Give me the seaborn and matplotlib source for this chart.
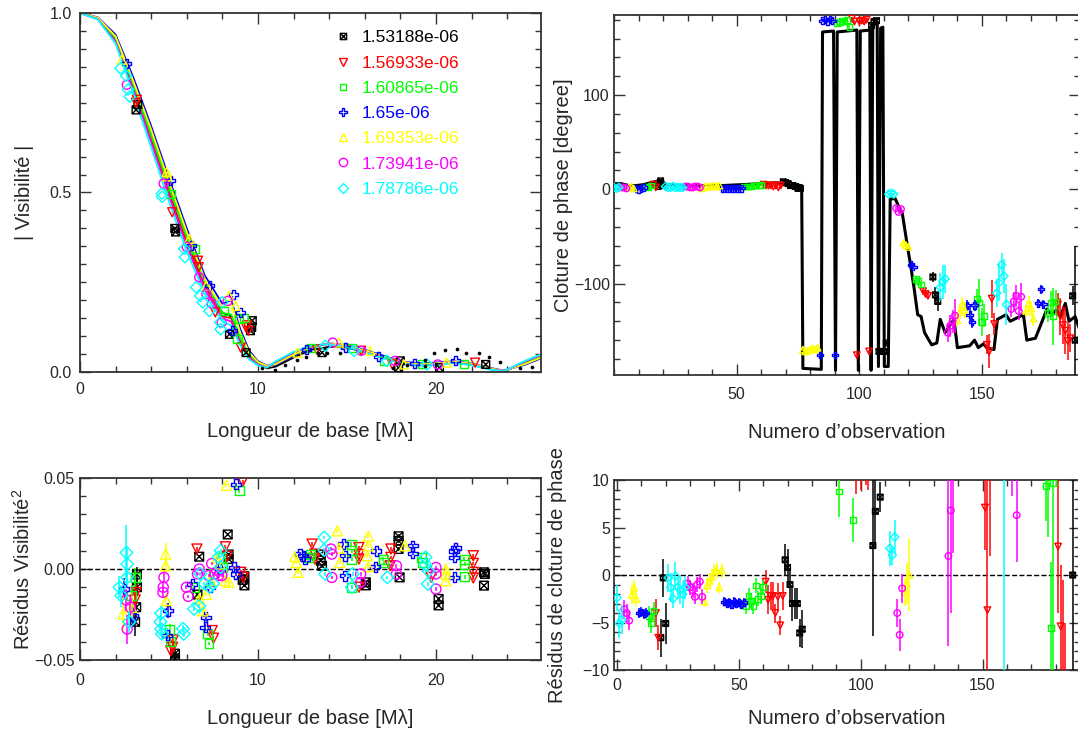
import matplotlib
matplotlib.use("Agg")
import matplotlib.pyplot as plt
import seaborn as sns
from matplotlib.path import Path
from matplotlib.lines import Line2D
from matplotlib.ticker import MultipleLocator

# ==========================================
# DATA
# ==========================================

wavelengths = ["1.53188e-06", "1.56933e-06", "1.60865e-06", "1.65e-06",
               "1.69353e-06", "1.73941e-06", "1.78786e-06"]
colors = ["black", "#FF0000", "#00FF00", "#0000FF", "#FFFF00", "#FF00FF", "#00FFFF"]

# --- |V| vs baseline : measured points (x [Mlambda], V)
vis_black = [(3.15, 0.73), (3.25, 0.745), (5.37, 0.39), (5.33, 0.40), (8.4, 0.105),
             (9.33, 0.054), (9.68, 0.143), (9.58, 0.115), (9.65, 0.125), (13.6, 0.054),
             (18.0, 0.031), (17.9, 0.012), (20.2, 0.012), (22.8, 0.021)]
vis_red = [(3.2, 0.758), (3.15, 0.75), (5.18, 0.445), (6.63, 0.31), (6.67, 0.292),
           (7.6, 0.166), (9.33, 0.124), (9.46, 0.115), (9.4, 0.13), (9.03, 0.068),
           (13.3, 0.063), (15.8, 0.059), (17.55, 0.021), (22.2, 0.026)]
vis_green = [(5.14, 0.497), (6.47, 0.343), (8.08, 0.171), (8.95, 0.147), (9.2, 0.15),
             (8.85, 0.091), (13.0, 0.068), (15.3, 0.066), (17.1, 0.031), (19.2, 0.021),
             (21.6, 0.021)]
vis_blue = [(2.6, 0.86), (5.08, 0.534), (6.24, 0.352), (7.3, 0.24), (8.6, 0.217),
            (9.04, 0.166), (8.56, 0.115), (12.7, 0.063), (14.9, 0.068), (16.77, 0.042),
            (18.8, 0.023), (21.1, 0.031)]
vis_yellow = [(2.35, 0.87), (4.87, 0.557), (4.9, 0.545), (6.14, 0.371), (7.1, 0.24),
              (8.37, 0.212), (8.75, 0.184), (12.23, 0.054), (14.55, 0.082), (16.3, 0.059),
              (18.2, 0.021), (20.6, 0.026)]
vis_magenta = [(2.63, 0.80), (4.7, 0.525), (6.0, 0.348), (6.7, 0.264), (7.1, 0.217),
               (7.4, 0.191), (7.96, 0.138), (8.3, 0.198), (14.2, 0.082), (15.8, 0.059),
               (17.7, 0.031), (20.1, 0.021)]
vis_cyan = [(2.28, 0.846), (2.6, 0.825), (2.7, 0.787), (2.8, 0.767), (4.6, 0.497),
            (4.62, 0.488), (5.86, 0.343), (5.9, 0.32), (6.53, 0.236), (6.76, 0.212),
            (6.9, 0.194), (7.27, 0.17), (7.88, 0.138), (7.9, 0.119), (8.0, 0.194),
            (13.78, 0.073), (15.4, 0.059), (17.25, 0.031), (19.5, 0.021)]

# --- |V| model curves
mod_b = [0, 1, 2, 3, 4, 5, 6, 7, 8, 8.5, 9, 9.5, 10, 10.5, 11, 12, 13, 14, 15, 16,
         17, 18, 19, 20, 21, 22, 23, 23.8, 25, 26]
mod_black = [1.0, 0.986, 0.93, 0.80, 0.66, 0.515, 0.375, 0.25, 0.165, 0.155, 0.09, 0.048,
             0.024, 0.010, 0.015, 0.040, 0.062, 0.070, 0.068, 0.055, 0.040, 0.027, 0.020,
             0.022, 0.027, 0.021, 0.009, 0.002, 0.024, 0.044]
mod_red = [1.0, 0.984, 0.925, 0.795, 0.65, 0.50, 0.36, 0.24, 0.155, 0.15, 0.085, 0.045,
           0.022, 0.014, 0.026, 0.052, 0.072, 0.078, 0.072, 0.057, 0.041, 0.027, 0.019,
           0.021, 0.027, 0.021, 0.009, 0.002, 0.027, 0.047]
mod_green = [1.0, 0.985, 0.93, 0.80, 0.66, 0.515, 0.375, 0.25, 0.165, 0.16, 0.095, 0.05,
             0.025, 0.015, 0.024, 0.050, 0.071, 0.079, 0.073, 0.058, 0.042, 0.028, 0.020,
             0.022, 0.028, 0.022, 0.010, 0.002, 0.025, 0.045]
mod_blue = [1.0, 0.988, 0.94, 0.82, 0.685, 0.54, 0.40, 0.27, 0.19, 0.20, 0.12, 0.06,
            0.030, 0.018, 0.020, 0.045, 0.068, 0.080, 0.075, 0.062, 0.046, 0.030, 0.024,
            0.026, 0.030, 0.024, 0.012, 0.004, 0.020, 0.040]
mod_yellow = [1.0, 0.987, 0.935, 0.81, 0.675, 0.53, 0.39, 0.26, 0.18, 0.19, 0.11, 0.055,
              0.028, 0.017, 0.022, 0.048, 0.070, 0.080, 0.074, 0.060, 0.044, 0.029, 0.022,
              0.024, 0.029, 0.023, 0.011, 0.003, 0.022, 0.042]
mod_magenta = [1.0, 0.983, 0.92, 0.785, 0.64, 0.49, 0.35, 0.23, 0.15, 0.14, 0.08, 0.04,
               0.020, 0.013, 0.028, 0.054, 0.073, 0.078, 0.071, 0.056, 0.040, 0.026, 0.018,
               0.020, 0.026, 0.020, 0.008, 0.002, 0.029, 0.049]
mod_cyan = [1.0, 0.982, 0.915, 0.775, 0.625, 0.475, 0.335, 0.22, 0.14, 0.13, 0.075, 0.035,
            0.018, 0.012, 0.030, 0.056, 0.074, 0.077, 0.070, 0.055, 0.039, 0.025, 0.017,
            0.019, 0.025, 0.019, 0.007, 0.002, 0.031, 0.051]

# black dots (second model) in the outer lobes
dots_b = [10.2, 10.96, 11.5, 12.2, 12.7, 13.4, 13.9, 14.6, 17.6, 18.4, 19.4, 19.4, 19.9,
          20.5, 21.2, 21.7, 22.4, 23.0, 23.6, 24.7, 25.4]
dots_v = [0.011, 0.006, 0.020, 0.033, 0.042, 0.052, 0.052, 0.054, 0.012, 0.020, 0.017,
          0.033, 0.052, 0.061, 0.064, 0.053, 0.053, 0.042, 0.028, 0.011, 0.014]

# --- residuals V^2 : (x, residual, error)
rv_black = [(3.2, -0.003, 0.004), (3.2, -0.010, 0.004), (3.16, -0.021, 0.006), (3.1, -0.029, 0.008),
            (5.34, -0.0465, 0.002), (5.34, -0.049, 0.002), (6.7, 0.0068, 0.001), (6.6, -0.014, 0.001),
            (8.3, 0.019, 0.001), (8.35, 0.008, 0.001), (8.35, 0.0055, 0.001), (9.14, -0.006, 0.001),
            (9.24, -0.009, 0.001), (9.24, -0.004, 0.001), (13.53, 0.0046, 0.001), (13.6, 0.0018, 0.001),
            (13.5, 0.008, 0.001), (16.06, -0.0073, 0.001), (16.06, -0.009, 0.001), (17.9, 0.018, 0.001),
            (17.9, 0.0155, 0.001), (17.9, 0.011, 0.001), (17.96, -0.0046, 0.001), (20.15, -0.0164, 0.001),
            (20.15, -0.020, 0.001), (22.7, -0.0018, 0.001), (22.7, -0.0091, 0.001), (22.75, -0.0027, 0.001)]
rv_red = [(3.1, -0.017, 0.006), (3.15, -0.013, 0.005), (5.2, -0.043, 0.002), (5.24, -0.039, 0.002),
          (5.1, -0.045, 0.002), (6.57, 0.011, 0.001), (7.43, -0.0338, 0.001), (7.5, -0.038, 0.001),
          (8.17, 0.0122, 0.001), (8.27, 0.007, 0.001), (9.03, -0.0018, 0.001), (9.18, -0.0046, 0.001),
          (9.14, 0.048, 0.001), (13.04, 0.0137, 0.001), (13.2, 0.0082, 0.001), (13.2, 0.0055, 0.001),
          (15.67, 0.0118, 0.001), (15.67, 0.008, 0.001), (15.67, 0.0055, 0.001), (15.67, -0.010, 0.001),
          (17.47, 0.011, 0.001), (17.47, 0.0064, 0.001), (17.43, 0.0018, 0.001), (19.73, -0.0046, 0.001),
          (22.1, 0.0073, 0.001), (22.1, 0.0031, 0.001), (22.1, -0.0018, 0.001), (22.1, -0.0049, 0.001)]
rv_green = [(2.9, -0.0146, 0.006), (3.1, -0.0046, 0.005), (5.05, -0.033, 0.003), (5.08, -0.040, 0.002),
            (6.41, -0.010, 0.001), (7.19, -0.0356, 0.001), (7.25, -0.041, 0.001), (7.48, -0.0027, 0.001),
            (7.87, 0.0064, 0.001), (8.03, 0.001, 0.001), (8.95, 0.043, 0.001), (12.85, 0.0064, 0.001),
            (12.95, 0.0082, 0.001), (15.25, 0.0137, 0.001), (15.28, 0.010, 0.001), (15.28, 0.0055, 0.001),
            (15.28, -0.010, 0.001), (17.04, 0.0055, 0.001), (17.08, 0.0036, 0.001), (19.18, 0.0064, 0.001),
            (19.22, 0.0036, 0.001), (21.58, 0.0055, 0.001), (21.62, 0.0027, 0.001), (21.62, -0.0042, 0.001)]
rv_blue = [(2.5, -0.011, 0.006), (2.98, -0.0256, 0.006), (4.95, -0.0228, 0.004), (4.91, -0.0365, 0.002),
           (6.32, -0.0082, 0.001), (7.06, -0.0265, 0.002), (7.04, -0.032, 0.002), (7.3, -0.010, 0.001),
           (7.87, 0.0, 0.001), (8.65, 0.0009, 0.001), (8.75, -0.0027, 0.001), (8.77, 0.0465, 0.001),
           (12.36, 0.0082, 0.001), (12.55, 0.0073, 0.001), (12.65, 0.0055, 0.001), (14.8, 0.0137, 0.001),
           (14.9, 0.0073, 0.001), (14.9, -0.0036, 0.001), (16.65, 0.010, 0.001), (16.6, 0.0013, 0.001),
           (18.7, 0.0128, 0.001), (18.7, 0.0086, 0.001), (21.03, 0.010, 0.001), (21.03, 0.0064, 0.001),
           (21.03, -0.0046, 0.001), (21.1, 0.0115, 0.001)]
rv_yellow = [(2.42, -0.0246, 0.010), (2.9, -0.021, 0.006), (4.81, 0.0082, 0.006), (4.81, 0.0018, 0.004),
             (4.85, -0.0173, 0.004), (6.7, -0.0164, 0.002), (6.9, -0.023, 0.002), (7.1, -0.014, 0.001),
             (7.35, -0.0064, 0.001), (7.72, 0.006, 0.001), (7.87, 0.0027, 0.001), (8.17, -0.0064, 0.001),
             (8.37, -0.0073, 0.001), (8.23, 0.046, 0.001), (12.07, 0.0068, 0.001), (12.16, 0.0036, 0.001),
             (12.26, -0.0018, 0.001), (14.46, 0.021, 0.001), (14.56, 0.0115, 0.001), (14.6, 0.0036, 0.001),
             (16.2, 0.018, 0.001), (16.2, 0.0128, 0.001), (16.14, 0.0073, 0.001), (16.2, 0.0013, 0.001),
             (18.25, 0.0128, 0.001), (20.55, 0.0, 0.001), (20.55, -0.0027, 0.001), (20.55, -0.0064, 0.001)]
rv_magenta = [(2.6, -0.017, 0.006), (2.65, -0.033, 0.008), (2.82, -0.021, 0.005), (4.72, -0.0046, 0.003),
              (4.68, -0.010, 0.003), (4.66, -0.0128, 0.003), (5.98, -0.010, 0.001), (6.08, -0.015, 0.001),
              (6.6, -0.0027, 0.001), (6.7, 0.0, 0.001), (7.23, -0.0036, 0.001), (7.4, 0.003, 0.001),
              (7.6, -0.0027, 0.001), (7.78, -0.0036, 0.001), (7.97, -0.0036, 0.001), (14.1, 0.011, 0.001),
              (14.15, 0.0082, 0.001), (14.15, -0.0046, 0.001), (15.77, -0.0027, 0.001), (15.77, -0.0073, 0.001),
              (17.78, 0.0018, 0.001), (17.78, -0.0027, 0.001), (20.0, 0.0009, 0.001), (20.0, -0.0027, 0.001),
              (20.0, -0.011, 0.001)]
rv_cyan = [(2.22, -0.010, 0.006), (2.32, -0.0146, 0.006), (2.61, 0.009, 0.015), (2.65, 0.0027, 0.010),
           (2.77, -0.029, 0.006), (2.65, -0.0046, 0.004), (4.56, -0.0243, 0.004), (4.52, -0.029, 0.003),
           (4.56, -0.033, 0.003), (4.6, -0.0356, 0.003), (5.79, -0.0328, 0.002), (5.83, -0.0356, 0.002),
           (6.41, -0.0219, 0.001), (6.7, -0.0204, 0.001), (6.76, -0.0027, 0.001), (6.99, -0.008, 0.001),
           (7.29, -0.0100, 0.001), (7.48, -0.008, 0.001), (7.78, 0.0064, 0.001), (7.9, 0.010, 0.001),
           (7.9, 0.001, 0.001), (13.72, 0.0173, 0.001), (13.72, 0.0104, 0.001), (13.78, -0.0027, 0.001),
           (15.32, -0.0027, 0.001), (15.28, -0.010, 0.001), (17.27, -0.0046, 0.001), (19.42, 0.0064, 0.001),
           (19.42, 0.0024, 0.001), (19.54, -0.0082, 0.001), (19.58, -0.001, 0.001)]

# --- closure phase : (observation number, phase [deg], error)
cp_black = [(18, 3, 2), (19, 9, 2), (20, 4, 2), (69, 8, 2), (70, 7, 2), (71, 6, 2), (72, 4, 2),
            (73, 4, 2), (74, 3, 2), (75, 1, 2), (76, 1, 2), (105, 174, 3), (106, 178, 3),
            (107, 179, 3), (108, -172, 3), (109, -172, 3), (110, -172, 3), (111, -163, 3),
            (130, -93, 5), (131, -112, 8), (132, -119, 10), (187, -113, 10), (188, -160, 100)]
cp_red = [(16, 5, 1.5), (17, 2, 1.5), (61, 5, 1), (62, 4, 1), (63, 4, 1), (64, 4, 1), (65, 3, 1),
          (66, 4, 1), (67, 2, 1), (68, 4, 1), (97, 181, 2), (98, 178, 2), (99, -176, 2),
          (100, 178, 2), (101, 179, 2), (102, 178, 2), (103, 180, 2), (104, -172, 2),
          (126, -108, 3), (127, -111, 3), (128, -113, 3), (152, -165, 10), (153, -172, 18),
          (154, -116, 20), (155, -143, 12), (181, -122, 12), (182, -135, 20), (183, -144, 20),
          (184, -150, 25), (185, -161, 20), (186, -158, 15)]
cp_green = [(13, 3, 1), (14, 2, 1), (15, 4, 1), (53, 3, 1), (54, 3, 1), (55, 3, 1), (56, 3, 1),
            (57, 4, 1), (58, 4, 1), (59, 4, 1), (60, 5, 1), (91, 176, 2), (92, 178, 2),
            (93, 179, 2), (94, 179, 2), (95, 180, 2), (96, 172, 2), (123, -95, 3), (124, -97, 3),
            (125, -101, 3), (148, -116, 10), (149, -120, 25), (150, -141, 15), (151, -134, 12),
            (177, -131, 10), (178, -120, 12), (179, -135, 30), (180, -119, 12)]
cp_blue = [(9, 1, 1), (10, 0, 1), (11, 1, 1), (12, 2, 1), (44, 1, 1), (45, 1, 1), (46, 1, 1),
           (47, 1, 1), (48, 1, 1), (49, 1, 1), (50, 1, 1), (51, 1, 1), (52, 1, 1),
           (84, -176, 2), (85, 179, 1), (86, 180, 1), (87, 178, 1), (88, 181, 1), (89, 179, 1),
           (90, -176, 2), (121, -80, 2), (122, -82, 2), (144, -123, 6), (145, -133, 8),
           (146, -141, 6), (147, -123, 6), (173, -121, 5), (174, -106, 5), (175, -122, 5)]
cp_yellow = [(6, 2, 1), (7, 3, 1), (8, 1, 1), (36, 1, 1), (37, 3, 1), (38, 3, 1), (39, 3, 1),
             (40, 4, 1), (41, 4, 1), (42, 3, 1), (43, 4, 1), (77, -170, 2), (78, -172, 2),
             (79, -171, 2), (80, -170, 2), (81, -169, 2), (82, -170, 2), (83, -168, 2),
             (118, -57, 2), (119, -59, 2), (120, -61, 2), (140, -139, 6), (141, -130, 8),
             (142, -122, 8), (143, -128, 8), (168, -129, 6), (169, -121, 8), (170, -126, 8),
             (171, -137, 8)]
cp_magenta = [(3, 2, 1), (4, 2, 1), (5, 1, 1), (29, 3, 1), (30, 3, 1), (31, 2, 1), (32, 2, 1),
              (33, 3, 1), (34, 3, 1), (35, 2, 1), (115, -20, 2), (116, -24, 2), (117, -21, 2),
              (136, -152, 10), (137, -145, 12), (138, -140, 12), (139, -134, 18),
              (162, -127, 8), (163, -119, 10), (164, -113, 12), (165, -129, 10), (166, -114, 15)]
cp_cyan = [(0, 2, 1.5), (1, 1, 1.5), (2, 2, 1.5), (21, 3, 1.5), (22, 2, 1.5), (23, 2, 1),
           (24, 3, 1.5), (25, 2, 1.2), (26, 2, 1.5), (27, 2, 1.5), (28, 2, 1.2), (112, -5, 1),
           (113, -4, 1), (114, -5, 1), (133, -104, 15), (134, -98, 18), (135, -95, 15),
           (156, -110, 15), (157, -99, 20), (158, -80, 12), (159, -92, 18), (160, -122, 22)]

# closure phase model (thick black line)
cpm_idx = [0, 3, 6, 9, 12, 15, 18, 20, 21, 28, 36, 44, 52, 60, 66, 69, 72, 76.5, 77, 84.5,
           85, 89.5, 90.3, 91, 99, 99.6, 100.4, 104.3, 104.8, 105.5, 107.3, 107.8, 108.7,
           109.6, 110.2, 111.8, 112.6, 114.7, 116, 117.5, 119.6, 121, 122.4, 123.8, 125.2,
           126.6, 129.5, 131.6, 133, 135, 138.6, 140, 145, 147, 148.5, 150.6, 152, 154.9,
           156.3, 159.8, 161.5, 166.9, 168.3, 171.8, 175.3, 176.5, 178.5, 180.3, 182, 184,
           185.5, 188, 190]
cpm_val = [6, 6, 4, 4, 5, 7, 9, 8, 5, 4, 4, 4, 5, 6, 7, 6, 5, 4, -190, -191,
           167, 168, -192, 167, 169, -192, 168, 169, -192, 175, 176, -188, 171,
           172, -188, -188, -10, -10, -18, -25, -60, -82, -106, -133, -135,
           -152, -165, -163, -138, -152, -138, -168, -166, -160, -168, -164, -168, -170,
           -138, -133, -140, -133, -160, -158, -135, -127, -133, -128, -135, -121,
           -140, -135, -150]

# --- closure phase residuals : (observation number, residual [deg], error)
rc_black = [(18, -6.6, 2), (19, -0.3, 2), (20, -5.1, 2.2), (69, 1.6, 1.7), (70, 0.8, 1.9),
            (71, -1.0, 1.6), (72, -3.0, 1.8), (73, -3.0, 1.6), (74, -3.0, 1.6), (75, -6.1, 1.5),
            (76, -5.7, 2.0), (105, 3.1, 9.5), (106, 6.7, 4), (108, 8.2, 1.6), (187, 0, 40)]
rc_red = [(16, -4.0, 1.5), (17, -6.6, 1.3), (61, -0.7, 1.2), (62, -2.6, 1.5), (63, -2.2, 1.5),
          (64, -2.2, 1.5), (65, -4.0, 1), (66, -2.3, 1.5), (67, -5.3, 1), (68, -2.2, 1.5),
          (98, 12, 3.5), (100, 11.5, 2.5), (102, 12.5, 3), (103, 11.5, 2.5), (151, 7.1, 4.5),
          (152, -3.7, 25), (153, 14, 12), (181, 3.0, 7), (182, -5.4, 6.5), (183, -12, 11.5),
          (184, -15, 10)]
rc_green = [(13, -4.3, 1), (14, -5.1, 1), (15, -3.8, 1), (53, -3.3, 0.8), (54, -2.2, 0.8),
            (55, -2.7, 0.8), (56, -3.3, 0.8), (57, -1.1, 0.8), (58, -2.5, 0.8), (59, -2.2, 0.8),
            (60, -1.3, 0.8), (91, 8.8, 2.7), (97, 5.8, 2.3), (176, 9.4, 3.7), (177, 14, 10),
            (178, -5.6, 7), (179, 9.7, 25)]
rc_blue = [(9, -4.0, 0.5), (10, -3.9, 0.5), (11, -4.1, 0.5), (12, -4.0, 0.5), (44, -2.8, 0.5),
           (45, -3.0, 0.5), (46, -2.9, 0.5), (47, -3.1, 0.5), (48, -2.8, 0.5), (49, -3.0, 0.5),
           (50, -2.9, 0.5), (51, -3.1, 0.5), (52, -2.9, 0.5)]
rc_yellow = [(6, -2.1, 1), (7, -1.3, 0.8), (8, -2.5, 0.8), (36, -2.8, 0.6), (37, -1.1, 0.8),
             (38, -0.6, 0.8), (39, -0.2, 0.8), (40, 0.4, 0.8), (41, 0.5, 0.8), (42, -1.3, 0.6),
             (43, 0.5, 0.8), (118, -1.8, 1.5), (119, -0.9, 2.2), (120, 0.0, 3.8)]
rc_magenta = [(3, -3.6, 1), (4, -4.0, 1), (5, -4.8, 1), (29, -0.9, 0.8), (30, -1.3, 0.8),
              (31, -1.6, 0.8), (32, -2.3, 0.8), (33, -1.0, 0.8), (34, -0.7, 0.8), (35, -2.3, 0.8),
              (115, -4.0, 1.5), (116, -6.3, 1.7), (117, -1.4, 1.5), (136, 2.0, 9.5),
              (137, 6.8, 10.8), (138, 14, 11.7), (162, 20, 11.7), (164, 6.3, 4.9)]
rc_cyan = [(0, -2.4, 1.4), (1, -5.1, 1.5), (2, -4.7, 1.5), (21, -0.3, 1.5), (22, -1.3, 1.5),
           (23, -2.5, 1.0), (24, -0.1, 1.5), (25, -1.3, 1.2), (26, -1.6, 1.5), (27, -2.0, 1.5),
           (28, -1.3, 1.2), (112, 2.8, 1.8), (113, 2.1, 1.0), (114, 4.0, 1.8), (159, 30, 45)]

# ==========================================
# STYLE
# ==========================================

sns.set_style("ticks")
plt.rcParams["font.family"] = ["Liberation Sans", "DejaVu Sans"]
plt.rcParams["mathtext.fontset"] = "custom"
plt.rcParams["mathtext.rm"] = "Liberation Sans"
plt.rcParams["axes.edgecolor"] = "#333333"
plt.rcParams["axes.linewidth"] = 1.3

box_x = Path([(-1, -1), (1, -1), (1, 1), (-1, 1), (-1, -1), (-1, -1), (1, 1), (-1, 1), (1, -1)],
             [Path.MOVETO, Path.LINETO, Path.LINETO, Path.LINETO, Path.CLOSEPOLY,
              Path.MOVETO, Path.LINETO, Path.MOVETO, Path.LINETO])
markers = [box_x, "v", "s", "P", "^", "o", "D"]
marker_scale = [0.75, 1.0, 0.8, 1.0, 1.0, 1.0, 0.8]

vis_sets = [vis_black, vis_red, vis_green, vis_blue, vis_yellow, vis_magenta, vis_cyan]
mod_sets = [mod_black, mod_red, mod_green, mod_blue, mod_yellow, mod_magenta, mod_cyan]
rv_sets = [rv_black, rv_red, rv_green, rv_blue, rv_yellow, rv_magenta, rv_cyan]
cp_sets = [cp_black, cp_red, cp_green, cp_blue, cp_yellow, cp_magenta, cp_cyan]
rc_sets = [rc_black, rc_red, rc_green, rc_blue, rc_yellow, rc_magenta, rc_cyan]

TICK_FS = 11.5
LABEL_FS = 14.5


def style_axes(ax, xmaj, xmin, ymaj, ymin):
    ax.xaxis.set_major_locator(MultipleLocator(xmaj))
    ax.xaxis.set_minor_locator(MultipleLocator(xmin))
    ax.yaxis.set_major_locator(MultipleLocator(ymaj))
    ax.yaxis.set_minor_locator(MultipleLocator(ymin))
    ax.tick_params(which="both", direction="in", top=True, right=True,
                   labelsize=TICK_FS, color="#333333")
    ax.tick_params(which="major", length=8, width=1)
    ax.tick_params(which="minor", length=4.5, width=1)
    for s in ax.spines.values():
        s.set_visible(True)


def unpack(pts):
    return [p[0] for p in pts], [p[1] for p in pts], [p[2] for p in pts]


def scatter(ax, x, y, i, size):
    sns.scatterplot(x=x, y=y, ax=ax, marker=markers[i], s=size * marker_scale[i],
                    facecolor="none", edgecolor=colors[i], color=colors[i],
                    linewidth=1.0, legend=False, zorder=3)


fig = plt.figure(figsize=(10.78, 7.35), dpi=100)

# ==========================================
# TOP LEFT : |V| vs baseline
# ==========================================

ax1 = fig.add_axes([0.0742, 0.4939, 0.4276, 0.4884])
for i in range(7):
    sns.lineplot(x=mod_b, y=mod_sets[i], ax=ax1, color=colors[i], lw=1.3,
                 sort=False, estimator=None, zorder=2)
for i in range(7):
    xs = [p[0] for p in vis_sets[i]]
    ys = [p[1] for p in vis_sets[i]]
    scatter(ax1, xs, ys, i, 42)
sns.scatterplot(x=dots_b, y=dots_v, ax=ax1, color="black", s=7, linewidth=0,
                legend=False, zorder=3)
ax1.set_xlim(0, 25.9)
ax1.set_ylim(0, 1.0)
style_axes(ax1, 10, 2, 0.5, 0.05)
ax1.set_yticks([0, 0.5, 1.0], labels=["0.0", "0.5", "1.0"])
ax1.set_xticks([0, 10, 20], labels=["0", "10", "20"])
ax1.tick_params(axis="x", pad=7)
ax1.tick_params(axis="y", pad=6)
ax1.set_xlabel("Longueur de base [M\u03bb]", fontsize=LABEL_FS)
ax1.set_ylabel("| Visibilit\u00e9 |", fontsize=LABEL_FS)
ax1.xaxis.set_label_coords(0.5, -0.14)
ax1.yaxis.set_label_coords(-0.10, 0.5)

handles = [Line2D([], [], ls="none", marker=markers[i], mfc="none", mec=colors[i],
                  mew=1.0, ms=6 * marker_scale[i]) for i in range(7)]
leg = ax1.legend(handles, wavelengths, loc="upper left", bbox_to_anchor=(0.553, 0.952),
                 frameon=False, fontsize=12.5, handlelength=0.9, handletextpad=0.65,
                 labelspacing=0.58, borderpad=0, borderaxespad=0, labelcolor=colors)

# ==========================================
# TOP RIGHT : closure phase
# ==========================================

ax2 = fig.add_axes([0.5696, 0.4898, 0.4323, 0.4898])
sns.lineplot(x=cpm_idx, y=cpm_val, ax=ax2, color="black", lw=2.2, sort=False,
             estimator=None, zorder=2)
for i in range(7):
    xs, ys, es = unpack(cp_sets[i])
    ax2.errorbar(xs, ys, yerr=es, fmt="none", ecolor=colors[i], elinewidth=1.1,
                 capsize=0, zorder=3)
    scatter(ax2, xs, ys, i, 22)
ax2.set_xlim(0, 190)
ax2.set_ylim(-197, 185)
style_axes(ax2, 50, 10, 100, 20)
ax2.set_xticks([50, 100, 150], labels=["50", "100", "150"])
ax2.set_yticks([-100, 0, 100], labels=["\u2212100", "0", "100"])
ax2.tick_params(axis="x", pad=9)
ax2.tick_params(axis="y", pad=3)
ax2.set_xlabel("Numero d\u2019observation", fontsize=LABEL_FS)
ax2.set_ylabel("Cloture de phase [degree]", fontsize=LABEL_FS)
ax2.xaxis.set_label_coords(0.5, -0.133)
ax2.yaxis.set_label_coords(-0.088, 0.5)

# ==========================================
# BOTTOM LEFT : residuals V^2
# ==========================================

ax3 = fig.add_axes([0.0742, 0.102, 0.4276, 0.2476])
for i in range(7):
    xs, ys, es = unpack(rv_sets[i])
    ax3.errorbar(xs, ys, yerr=es, fmt="none", ecolor=colors[i], elinewidth=1.1,
                 capsize=0, zorder=3)
    scatter(ax3, xs, ys, i, 52)
ax3.axhline(0, color="black", ls="--", lw=1, zorder=1)
ax3.set_xlim(0, 25.9)
ax3.set_ylim(-0.05, 0.05)
style_axes(ax3, 10, 2, 0.05, 0.01)
ax3.set_xticks([0, 10, 20], labels=["0", "10", "20"])
ax3.set_yticks([-0.05, 0, 0.05], labels=["\u22120.05", "0.00", "0.05"])
ax3.tick_params(axis="x", pad=9)
ax3.tick_params(axis="y", pad=4)
ax3.set_xlabel("Longueur de base [M\u03bb]", fontsize=LABEL_FS)
ax3.set_ylabel("R\u00e9sidus Visibilit\u00e9$^2$", fontsize=LABEL_FS)
ax3.xaxis.set_label_coords(0.5, -0.27)
ax3.yaxis.set_label_coords(-0.10, 0.5)

# ==========================================
# BOTTOM RIGHT : closure phase residuals
# ==========================================

ax4 = fig.add_axes([0.5696, 0.0884, 0.4323, 0.2585])
for i in range(7):
    xs, ys, es = unpack(rc_sets[i])
    ax4.errorbar(xs, ys, yerr=es, fmt="none", ecolor=colors[i], elinewidth=1.1,
                 capsize=0, zorder=3)
    scatter(ax4, xs, ys, i, 22)
ax4.axhline(0, color="black", ls="--", lw=1, zorder=1)
ax4.set_xlim(-1.2, 190)
ax4.set_ylim(-10, 10)
style_axes(ax4, 50, 10, 5, 1)
ax4.set_xticks([0, 50, 100, 150], labels=["0", "50", "100", "150"])
ax4.set_yticks([-10, -5, 0, 5, 10], labels=["\u221210", "\u22125", "0", "5", "10"])
ax4.tick_params(axis="x", pad=6)
ax4.tick_params(axis="y", pad=3)
ax4.set_xlabel("Numero d\u2019observation", fontsize=LABEL_FS)
ax4.set_ylabel("R\u00e9sidus de cloture de phase", fontsize=LABEL_FS)
ax4.xaxis.set_label_coords(0.5, -0.205)
ax4.yaxis.set_label_coords(-0.10, 0.5)

fig.savefig("out.png", dpi=100)
plt.close(fig)
